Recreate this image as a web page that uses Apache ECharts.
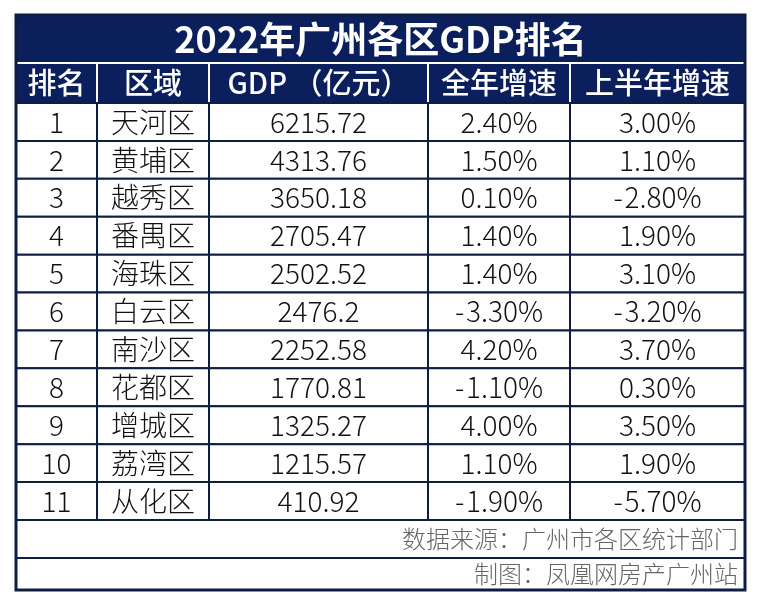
<!DOCTYPE html>
<html>
<head>
<meta charset="utf-8">
<script src="https://cdn.jsdelivr.net/npm/echarts@6/dist/echarts.min.js"></script>
<style>
  html, body { margin: 0; padding: 0; background: #fff; }
  #gdpTable { width: 762px; height: 608px; }
</style>
</head>
<body>
<div id="gdpTable"></div>
<script>
// table content
var title = '2022年广州各区GDP排名';
var headers = ['排名', '区域', 'GDP （亿元）', '全年增速', '上半年增速'];
var ranks = [1, 2, 3, 4, 5, 6, 7, 8, 9, 10, 11];
var districts = ['天河区', '黄埔区', '越秀区', '番禺区', '海珠区', '白云区', '南沙区', '花都区', '增城区', '荔湾区', '从化区'];
var gdp = [6215.72, 4313.76, 3650.18, 2705.47, 2502.52, 2476.2, 2252.58, 1770.81, 1325.27, 1215.57, 410.92];
var fullYearGrowth = [2.40, 1.50, 0.10, 1.40, 1.40, -3.30, 4.20, -1.10, 4.00, 1.10, -1.90];
var halfYearGrowth = [3.00, 1.10, -2.80, 1.90, 3.10, -3.20, 3.70, 0.30, 3.50, 1.90, -5.70];
var source = '数据来源：广州市各区统计部门';
var credit = '制图：凤凰网房产广州站';

// layout (axis units == pixels inside the grid)
var tableW = 729, tableH = 575;
var colEdges = [0, 81, 193, 412, 554, tableW];
var rowEdges = [0, 48, 88];
var dataRowH = (505 - 88) / ranks.length;
for (var i = 1; i <= ranks.length; i++) rowEdges.push(88 + i * dataRowH);
rowEdges.push(543, tableH);

var NAVY = '#0b1f5c';
var LINE = '#0e1d40';
var FONT = '"Noto Sans CJK SC", "Noto Sans", sans-serif';

var styles = {
  title:  { fill: NAVY, stroke: null, lineWidth: 0, color: '#fff', font: 'bold 36px ' + FONT, align: 'center' },
  header: { fill: NAVY, stroke: '#fff', lineWidth: 2, color: '#fff', font: '500 29px ' + FONT, align: 'center' },
  cell:   { fill: '#fff', stroke: LINE, lineWidth: 2, color: '#111', font: '300 28px ' + FONT, align: 'center' },
  note:   { fill: '#fff', stroke: LINE, lineWidth: 2, color: '#666', font: '300 24px ' + FONT, align: 'right' },
  frame:  { fill: 'none', stroke: LINE, lineWidth: 3, color: null, font: null, align: 'center' }
};

function pct(v) {
  return (v < 0 ? '-\u200A' : '') + Math.abs(v).toFixed(2) + '%';
}

// build cell list
var cells = [];
cells.push({ c0: 0, c1: 5, r: 0, text: title, kind: 'title' });
headers.forEach(function (h, c) {
  cells.push({ c0: c, c1: c + 1, r: 1, text: h, kind: 'header' });
});
ranks.forEach(function (rk, i) {
  var row = [String(rk), districts[i], String(gdp[i]), pct(fullYearGrowth[i]), pct(halfYearGrowth[i])];
  row.forEach(function (t, c) {
    cells.push({ c0: c, c1: c + 1, r: i + 2, text: t, kind: 'cell' });
  });
});
cells.push({ c0: 0, c1: 5, r: ranks.length + 2, text: source, kind: 'note' });
cells.push({ c0: 0, c1: 5, r: ranks.length + 3, text: credit, kind: 'note' });
cells.push({ c0: 0, c1: 5, r: 0, r1: ranks.length + 4, text: '', kind: 'frame' });

var chart = echarts.init(document.getElementById('gdpTable'));
chart.setOption({
  animation: false,
  grid: { left: 16, top: 15, width: tableW, height: tableH },
  xAxis: { type: 'value', min: 0, max: tableW, show: false },
  yAxis: { type: 'value', min: 0, max: tableH, inverse: true, show: false },
  series: [{
    type: 'custom',
    clip: false,
    silent: true,
    data: cells.map(function (c) { return [colEdges[c.c0], rowEdges[c.r]]; }),
    renderItem: function (params, api) {
      var cell = cells[params.dataIndex];
      var st = styles[cell.kind];
      var r1 = cell.r1 != null ? cell.r1 : cell.r + 1;
      var p0 = api.coord([colEdges[cell.c0], rowEdges[cell.r]]);
      var p1 = api.coord([colEdges[cell.c1], rowEdges[r1]]);
      var w = p1[0] - p0[0], h = p1[1] - p0[1];
      var children = [{
        type: 'rect',
        shape: { x: p0[0], y: p0[1], width: w, height: h },
        style: { fill: st.fill, stroke: st.stroke, lineWidth: st.lineWidth }
      }];
      if (cell.text) {
        children.push({
          type: 'text',
          x: st.align === 'right' ? p1[0] - 7 : p0[0] + w / 2,
          y: p0[1] + h / 2,
          style: { text: cell.text, fill: st.color, font: st.font, align: st.align, verticalAlign: 'middle' }
        });
      }
      return { type: 'group', children: children };
    }
  }]
});
</script>
</body>
</html>
